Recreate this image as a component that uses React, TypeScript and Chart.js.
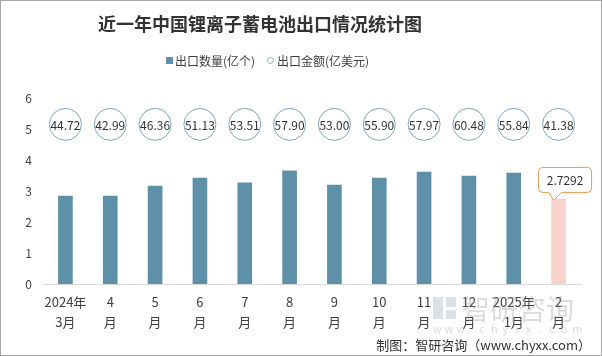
import React, { useEffect, useRef } from 'react';
import { Chart, registerables } from 'chart.js';

Chart.register(...registerables);

const TITLE = '近一年中国锂离子蓄电池出口情况统计图';
const categories: string[][] = [
  ['2024年', '3月'], ['4', '月'], ['5', '月'], ['6', '月'], ['7', '月'], ['8', '月'],
  ['9', '月'], ['10', '月'], ['11', '月'], ['12', '月'], ['2025年', '1月'], ['2', '月'],
];
const quantity = [2.84, 2.84, 3.16, 3.42, 3.26, 3.65, 3.19, 3.42, 3.61, 3.48, 3.58, 2.7292];
const amount = [44.72, 42.99, 46.36, 51.13, 53.51, 57.9, 53.0, 55.9, 57.97, 60.48, 55.84, 41.38];
const seriesNames = ['出口数量(亿个)', '出口金额(亿美元)'];
const yMin = 0;
const yMax = 6;
const yStep = 1;
const bubbleRow = 5.15; // level (quantity-axis units) on which amount bubbles sit
const SOURCE = '制图：智研咨询（www.chyxx.com）';

const FONT = '"Noto Sans CJK SC", "Noto Sans", sans-serif';
const BAR = '#5E90A7';
const BAR_LAST = '#F8D3CB';
const BUBBLE = '#7DA5B9';
const CALLOUT = '#E8974A';
const TEXT = '#404040';

const overlay = {
  id: 'overlay',
  afterDatasetsDraw(chart: any) {
    const ctx = chart.ctx;
    const xs = chart.scales.x;
    const ys = chart.scales.y;
    const rowY = ys.getPixelForValue(bubbleRow);
    ctx.save();
    // amount bubbles
    amount.forEach((v, i) => {
      const cx = xs.getPixelForValue(i);
      ctx.beginPath();
      ctx.arc(cx, rowY, 16, 0, Math.PI * 2);
      ctx.fillStyle = '#fff';
      ctx.fill();
      ctx.lineWidth = 1;
      ctx.strokeStyle = BUBBLE;
      ctx.stroke();
      ctx.fillStyle = '#333';
      ctx.font = `12px ${FONT}`;
      ctx.textAlign = 'center';
      ctx.textBaseline = 'middle';
      ctx.fillText(v.toFixed(2), cx, rowY + 1);
    });
    // callout on last bar
    const meta = chart.getDatasetMeta(0);
    const last = meta.data[meta.data.length - 1];
    if (last) {
      const bx = last.x;
      const by = last.y;
      const left = bx - 20;
      const w = 53;
      const h = 25;
      const bottom = by - 7;
      const top = bottom - h;
      const r = 4;
      ctx.beginPath();
      ctx.moveTo(left + r, top);
      ctx.lineTo(left + w - r, top);
      ctx.arcTo(left + w, top, left + w, top + r, r);
      ctx.lineTo(left + w, bottom - r);
      ctx.arcTo(left + w, bottom, left + w - r, bottom, r);
      ctx.lineTo(bx + 3, bottom);
      ctx.lineTo(bx - 5, by + 1);
      ctx.lineTo(bx - 10, bottom);
      ctx.lineTo(left + r, bottom);
      ctx.arcTo(left, bottom, left, bottom - r, r);
      ctx.lineTo(left, top + r);
      ctx.arcTo(left, top, left + r, top, r);
      ctx.closePath();
      ctx.fillStyle = '#fff';
      ctx.fill();
      ctx.strokeStyle = CALLOUT;
      ctx.lineWidth = 1;
      ctx.stroke();
      ctx.fillStyle = '#333';
      ctx.font = `12px ${FONT}`;
      ctx.textAlign = 'center';
      ctx.textBaseline = 'middle';
      ctx.fillText(String(quantity[quantity.length - 1]), left + w / 2, top + h / 2 + 1);
    }
    ctx.restore();
  },
  afterDraw(chart: any) {
    const ctx = chart.ctx;
    const W = chart.width;
    const H = chart.height;
    ctx.save();
    // title
    ctx.fillStyle = '#333';
    ctx.font = `bold 18px ${FONT}`;
    ctx.textAlign = 'center';
    ctx.textBaseline = 'middle';
    ctx.fillText(TITLE, 260, 24);
    // legend
    ctx.font = `12px ${FONT}`;
    ctx.textAlign = 'left';
    ctx.fillStyle = BAR;
    ctx.fillRect(166, 57, 7, 7);
    ctx.fillStyle = TEXT;
    ctx.fillText(seriesNames[0], 175, 61);
    ctx.beginPath();
    ctx.arc(270.5, 60.5, 3, 0, Math.PI * 2);
    ctx.strokeStyle = '#95B4C5';
    ctx.lineWidth = 1;
    ctx.stroke();
    ctx.fillStyle = TEXT;
    ctx.fillText(seriesNames[1], 277, 61);
    // watermark
    ctx.globalAlpha = 0.3;
    ctx.fillStyle = '#8A9BB0';
    ctx.fillRect(433, 297, 10, 22);
    ctx.fillRect(446, 297, 10, 10);
    ctx.fillRect(446, 310, 10, 9);
    ctx.fillStyle = '#8a8a8a';
    ctx.font = `28px ${FONT}`;
    ctx.textAlign = 'left';
    ctx.fillText('智研咨询', 462, 309);
    ctx.font = `11px ${FONT}`;
    const wm = 'www.chyxx.com'.split('');
    wm.forEach((c, i) => ctx.fillText(c, 433 + i * 11.6, 329));
    ctx.globalAlpha = 1;
    // source
    ctx.fillStyle = '#333';
    ctx.font = `13px ${FONT}`;
    ctx.textAlign = 'right';
    ctx.fillText(SOURCE, 591, 345);
    // frame
    ctx.strokeStyle = '#A6A6A6';
    ctx.lineWidth = 1;
    ctx.strokeRect(0.5, 0.5, W - 1, H - 1);
    ctx.restore();
  },
};

export default function App() {
  const ref = useRef<HTMLCanvasElement | null>(null);
  useEffect(() => {
    document.body.style.margin = '0';
    const canvas = ref.current;
    if (!canvas) return;
    const chart = new Chart(canvas, {
      type: 'bar',
      data: {
        labels: categories,
        datasets: [
          {
            label: seriesNames[0],
            data: quantity,
            backgroundColor: quantity.map((_, i) => (i === quantity.length - 1 ? BAR_LAST : BAR)),
            barThickness: 14,
          } as any,
          {
            type: 'line',
            label: seriesNames[1],
            data: amount,
            yAxisID: 'yAmt',
            showLine: false,
            pointRadius: 0,
            pointHoverRadius: 0,
          } as any,
        ],
      },
      options: {
        responsive: false,
        animation: false,
        events: [],
        layout: { padding: { top: 98, right: 21, left: 0, bottom: 0 } },
        plugins: {
          legend: { display: false },
          title: { display: false },
          tooltip: { enabled: false },
        },
        scales: {
          x: {
            grid: { display: false, drawTicks: false },
            border: { display: true, color: '#D9D9D9', width: 1 },
            ticks: {
              color: TEXT,
              font: { family: FONT, size: 13, lineHeight: '20px' },
              padding: 8,
              maxRotation: 0,
              autoSkip: false,
            },
            afterFit: (s: any) => { s.height = 72; },
          },
          y: {
            min: yMin,
            max: yMax,
            grid: { display: false, drawTicks: false },
            border: { display: false },
            ticks: {
              stepSize: yStep,
              color: TEXT,
              font: { family: FONT, size: 12 },
              padding: 11,
            },
            afterFit: (s: any) => { s.width = 43; },
          },
          yAmt: { display: false, position: 'right' },
        },
      } as any,
      plugins: [overlay],
    });
    return () => chart.destroy();
  }, []);
  return (
    <div style={{ width: 602, height: 356 }}>
      <canvas ref={ref} width={602} height={356} style={{ display: 'block' }} />
    </div>
  );
}
